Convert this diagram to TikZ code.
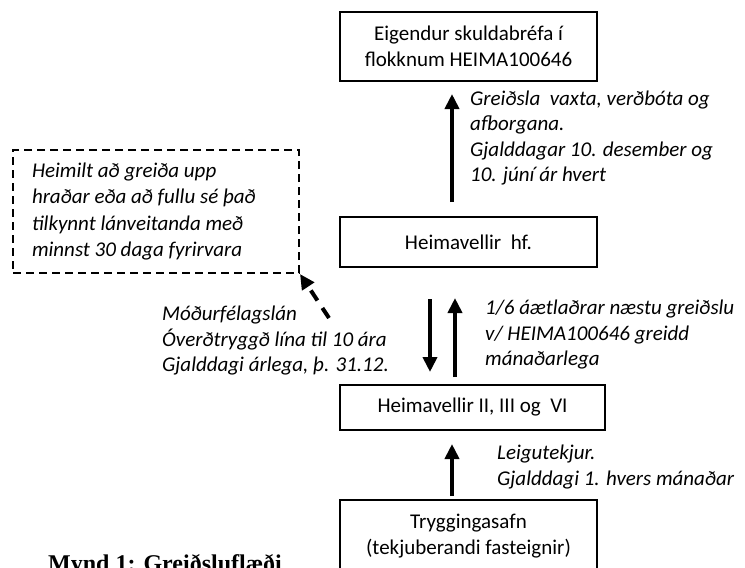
\documentclass[tikz,border=0pt]{standalone}
\usepackage{fontspec}
\setmainfont{Carlito}
\newfontfamily\capfont{Liberation Serif}
\usetikzlibrary{arrows.meta}

\begin{document}
\begin{tikzpicture}[x=1pt, y=-1pt,
        every node/.style = {font=\fontsize{21}{26}\selectfont},
        box/.style = {draw, line width=2pt, align=center, inner sep=0pt,
          minimum width=257pt},
        note/.style = {draw, line width=2pt, dash pattern=on 8pt off 5pt,
          align=flush left, inner sep=0pt, text width=248pt,
          minimum width=286pt, minimum height=123pt,
          font=\fontsize{21}{26.5}\selectfont\itshape},
        lab/.style = {align=left, inner sep=0pt, anchor=west,
          font=\fontsize{21}{25.5}\selectfont\itshape},
        flow/.style = {line width=4pt, -{Triangle[length=15pt,width=14pt]}}]
        \useasboundingbox (0,0) rectangle (745,568);
        % boxes
        \node[box, minimum height=69pt] (owners) at (468.5,46.5)
          {Eigendur skuldabréfa í\\flokknum HEIMA100646};
        \node[box, minimum height=50pt] (parent) at (468.5,242) {Heimavellir\ \ hf.};
        \node[box, minimum height=45pt, minimum width=265pt] (subs) at (472.5,407.5)
          {Heimavellir II, III og\ \ VI};
        \node[box, minimum height=72pt] (assets) at (468.5,536)
          {Tryggingasafn\\(tekjuberandi fasteignir)};
        \node[note] (prepay) at (156,211.5)
          {Heimilt að greiða upp\\hraðar eða að fullu sé það\\tilkynnt lánveitanda með\\minnst 30 daga fyrirvara};
        % labels
        \node[lab] (paylab) at (470,138)
          {Greiðsla\ \ vaxta, verðbóta og\\afborgana.\\Gjalddagar 10. desember og\\10. júní ár hvert};
        \node[lab] (sixthlab) at (485,335)
          {1/6 áætlaðrar næstu greiðslu\\v/ HEIMA100646 greidd\\mánaðarlega};
        \node[lab] (loanlab) at (162,341)
          {Móðurfélagslán\\Óverðtryggð lína til 10 ára\\Gjalddagi árlega, þ. 31.12.};
        \node[lab] (rentlab) at (497,467)
          {Leigutekjur.\\Gjalddagi 1. hvers mánaðar};
        \node[anchor=base west, inner sep=0pt, font=\capfont\bfseries\fontsize{24}{28}\selectfont]
          (caption) at (48,571) {Mynd 1: Greiðsluflæði};
        % flows
        \draw[flow] ([xshift=-16.5pt,yshift=14pt]parent.north) -- ([xshift=-16.5pt,yshift=-12pt]owners.south);
        \draw[flow] ([xshift=-38.5pt,yshift=-31pt]parent.south) -- ([xshift=-42.5pt,yshift=12pt]subs.north);
        \draw[flow] ([xshift=-17.5pt,yshift=7pt]subs.north) -- ([xshift=-13.5pt,yshift=-30pt]parent.south);
        \draw[flow] ([xshift=-16.5pt,yshift=3pt]assets.north) -- ([xshift=-20.5pt,yshift=-13pt]subs.south);
        \coordinate (loanstart) at (329,318);
        \draw[flow, dash pattern=on 12pt off 9pt] (loanstart) -- (prepay.south east);
      \end{tikzpicture}
\end{document}
